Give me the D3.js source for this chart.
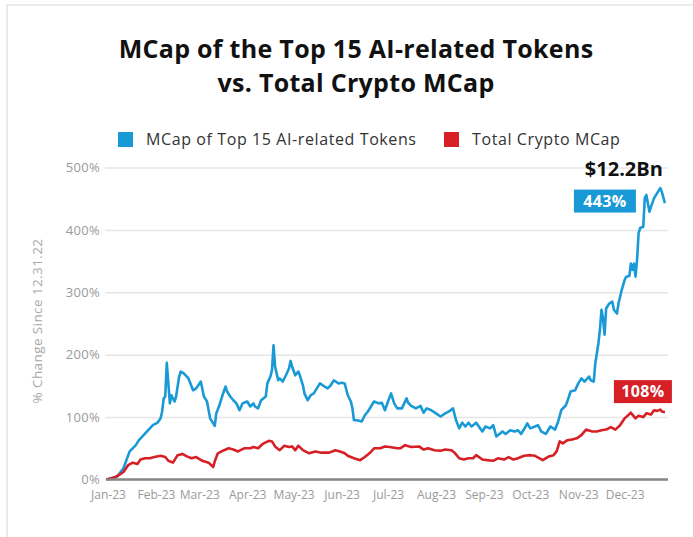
<!DOCTYPE html>
<html>
<head>
<meta charset="utf-8">
<script src="https://cdn.jsdelivr.net/npm/d3@7"></script>
<style>
  body { margin: 0; background: #fff; }
  svg { display: block; font-family: "Open Sans", sans-serif; }
</style>
</head>
<body>
<svg id="chart"></svg>
<script>
// days counted from Dec 31 2022, values are % change since 12.31.22
const aiDays = [0, 7, 11, 15, 19, 21, 24, 27, 30, 33, 35, 36, 37, 38, 39, 40, 41, 42, 44, 45,
  47, 48, 50, 53, 56, 58, 61, 63, 65, 67, 70, 71, 73, 75, 77, 78, 80, 82, 84, 86,
  88, 91, 93, 95, 96, 98, 100, 103, 104, 106, 107, 108, 109, 111, 112, 114, 116, 118, 119, 120,
  122, 124, 125, 127, 128, 130, 132, 134, 136, 138, 141, 143, 145, 147, 150, 152, 154, 156, 158, 159,
  160, 162, 165, 167, 169, 171, 173, 176, 178, 180, 182, 184, 186, 188, 191, 194, 195, 197, 200, 203,
  205, 207, 210, 213, 216, 219, 222, 224, 226, 228, 230, 232, 234, 236, 239, 243, 245, 248, 250, 252,
  256, 258, 261, 264, 266, 268, 271, 272, 274, 277, 279, 281, 284, 287, 290, 292, 294, 297, 299, 300,
  303, 305, 307, 309, 312, 313, 315, 316, 318, 319, 320, 321, 322, 323, 325, 327, 328, 330, 331, 333,
  335, 336, 338, 339, 340, 341, 342, 343, 344, 345, 347, 348, 349, 351, 352, 354, 356, 358, 359, 361];
const aiPct = [0, 5, 18, 45, 55, 63, 71, 79, 87, 91, 98, 109, 130, 133, 187, 154, 122, 135, 125, 133,
  165, 173, 170, 162, 143, 146, 157, 133, 125, 98, 86, 106, 119, 135, 149, 141, 133, 127, 122, 111,
  122, 125, 117, 122, 117, 114, 127, 133, 154, 165, 175, 215, 181, 159, 162, 157, 167, 178, 190, 181,
  167, 173, 167, 151, 138, 127, 135, 138, 146, 154, 149, 146, 151, 159, 154, 155, 154, 135, 125, 114,
  95, 95, 93, 103, 109, 117, 125, 122, 123, 111, 125, 138, 122, 114, 114, 130, 123, 118, 114, 118,
  107, 114, 111, 106, 101, 106, 110, 114, 95, 82, 91, 85, 91, 85, 91, 77, 85, 82, 87, 69,
  77, 73, 79, 77, 79, 73, 85, 90, 82, 85, 87, 77, 73, 85, 80, 93, 111, 119, 133, 141,
  143, 154, 162, 157, 165, 159, 157, 186, 218, 240, 272, 258, 232, 274, 282, 285, 272, 266, 282, 303,
  320, 325, 326, 346, 336, 346, 325, 352, 395, 403, 405, 451, 456, 429, 437, 451, 459, 467, 461, 443];

const cryptoDays = [0, 5, 8, 11, 14, 17, 20, 22, 25, 28, 31, 35, 38, 40, 43, 46, 49, 52, 55, 58,
  62, 66, 69, 70, 72, 76, 79, 82, 85, 89, 93, 95, 98, 101, 105, 107, 109, 112, 115, 118,
  120, 122, 124, 127, 131, 135, 139, 144, 148, 151, 154, 156, 160, 164, 167, 170, 173, 177, 180, 183,
  188, 190, 193, 197, 202, 205, 208, 212, 216, 219, 223, 225, 228, 231, 234, 237, 239, 243, 246, 250,
  253, 257, 260, 263, 266, 270, 274, 277, 280, 282, 286, 289, 291, 293, 295, 298, 301, 304, 307, 310,
  314, 317, 320, 323, 326, 329, 332, 335, 339, 342, 344, 347, 349, 352, 354, 356, 358, 359, 361];
const cryptoPct = [0, 3, 7, 12, 23, 27, 25, 32, 34, 34, 36, 38, 36, 30, 27, 39, 41, 37, 34, 36,
  30, 27, 20, 29, 42, 47, 50, 48, 45, 50, 50, 52, 50, 57, 62, 61, 53, 47, 54, 52,
  53, 47, 54, 47, 42, 45, 43, 43, 47, 45, 42, 38, 34, 31, 36, 42, 50, 50, 53, 52,
  50, 50, 55, 52, 53, 48, 50, 47, 46, 48, 47, 43, 34, 32, 34, 34, 39, 32, 31, 30,
  34, 32, 36, 32, 34, 38, 39, 38, 34, 31, 37, 39, 45, 61, 58, 63, 64, 66, 71, 80,
  77, 77, 79, 80, 84, 80, 87, 98, 107, 98, 102, 100, 106, 104, 111, 110, 112, 109, 108];

const yTicks = [0, 100, 200, 300, 400, 500];
const seriesNames = ["MCap of Top 15 AI-related Tokens", "Total Crypto MCap"];
const seriesColors = ["#199ad6", "#d71f26"];
const aiMcapLabel = "$12.2Bn";

const width = 693, height = 537;
const start = new Date(2022, 11, 31);
const toDate = d => d3.timeDay.offset(start, d);

const svg = d3.select("#chart")
  .attr("width", width)
  .attr("height", height);

// card frame
svg.append("path")
  .attr("d", `M7,${height} V5 H${width}`)
  .attr("fill", "none")
  .attr("stroke", "#ebebeb")
  .attr("stroke-width", 2);

// title
["MCap of the Top 15 AI-related Tokens", "vs. Total Crypto MCap"].forEach((t, i) => {
  svg.append("text")
    .attr("x", 356).attr("y", 58 + i * 34)
    .attr("text-anchor", "middle")
    .attr("font-size", 25).attr("font-weight", 700)
    .attr("letter-spacing", 0.3)
    .attr("fill", "#111")
    .text(t);
});

// legend
const legendX = [118, 444];
seriesNames.forEach((name, i) => {
  const g = svg.append("g").attr("transform", `translate(${legendX[i]},132)`);
  g.append("rect").attr("width", 15).attr("height", 15).attr("fill", seriesColors[i]);
  g.append("text")
    .attr("x", 28).attr("y", 13)
    .attr("font-size", 16).attr("fill", "#333")
    .attr("letter-spacing", 0.6)
    .text(name);
});

// scales
const x = d3.scaleTime()
  .domain([new Date(2023, 0, 1), new Date(2023, 11, 29)])
  .range([108, 668]);
const y = d3.scaleLinear()
  .domain([0, 500])
  .range([479.5, 167.5]);

// y axis with gridlines
const yAxis = svg.append("g")
  .attr("transform", "translate(105,0)")
  .call(d3.axisLeft(y).tickValues(yTicks).tickFormat(d => d + "%").tickSize(-563).tickPadding(5));
yAxis.select(".domain").remove();
yAxis.selectAll(".tick line")
  .attr("stroke", "#e6e6e6")
  .attr("stroke-width", 1.5);
yAxis.selectAll(".tick text")
  .attr("font-size", 13)
  .attr("letter-spacing", 0.3)
  .attr("font-family", "Open Sans, sans-serif")
  .attr("fill", "#9a9a9a");

// axis title
svg.append("text")
  .attr("transform", "translate(42,321) rotate(-90)")
  .attr("text-anchor", "middle")
  .attr("font-size", 13.5)
  .attr("letter-spacing", 0.4)
  .attr("fill", "#a8a8a8")
  .text("% Change Since 12.31.22");

// x axis
const xAxis = svg.append("g")
  .attr("transform", `translate(0,${y(0)})`)
  .call(d3.axisBottom(x).ticks(d3.timeMonth.every(1)).tickFormat(d3.timeFormat("%b-%y")).tickSize(0).tickPadding(11));
xAxis.select(".domain").remove();
xAxis.selectAll(".tick text")
  .attr("font-size", 12)
  .attr("font-family", "Open Sans, sans-serif")
  .attr("fill", "#9a9a9a");

// lines
const line = d3.line()
  .x(d => x(d.date))
  .y(d => y(d.v));

const aiData = aiDays.map((d, i) => ({ date: toDate(d), v: aiPct[i] }));
const cryptoData = cryptoDays.map((d, i) => ({ date: toDate(d), v: cryptoPct[i] }));

[aiData, cryptoData].forEach((data, i) => {
  svg.append("path")
    .datum(data)
    .attr("fill", "none")
    .attr("stroke", seriesColors[i])
    .attr("stroke-width", 2.6)
    .attr("stroke-linejoin", "round")
    .attr("d", line);
});

// baseline drawn on top
svg.append("line")
  .attr("x1", 107).attr("x2", 668)
  .attr("y1", y(0)).attr("y2", y(0))
  .attr("stroke", "#868686")
  .attr("stroke-width", 2.5);

// end labels
const aiLast = aiData[aiData.length - 1];
const cryptoLast = cryptoData[cryptoData.length - 1];

svg.append("text")
  .attr("x", x(aiLast.date) - 2).attr("y", 176)
  .attr("text-anchor", "end")
  .attr("font-size", 20).attr("font-weight", 700)
  .attr("fill", "#111")
  .text(aiMcapLabel);

function endBadge(cx, cy, w, color, label) {
  svg.append("rect")
    .attr("x", cx - w / 2).attr("y", cy - 11.5)
    .attr("width", w).attr("height", 23)
    .attr("fill", color);
  svg.append("text")
    .attr("x", cx).attr("y", cy + 5.5)
    .attr("text-anchor", "middle")
    .attr("font-size", 16).attr("font-weight", 700)
    .attr("letter-spacing", 0.3)
    .attr("fill", "#fff")
    .text(label);
}
endBadge(x(aiLast.date) - 60, y(aiLast.v) - 2, 62, seriesColors[0], aiLast.v + "%");
endBadge(x(cryptoLast.date) - 22, y(cryptoLast.v) - 20.5, 58, seriesColors[1], cryptoLast.v + "%");
</script>
</body>
</html>
